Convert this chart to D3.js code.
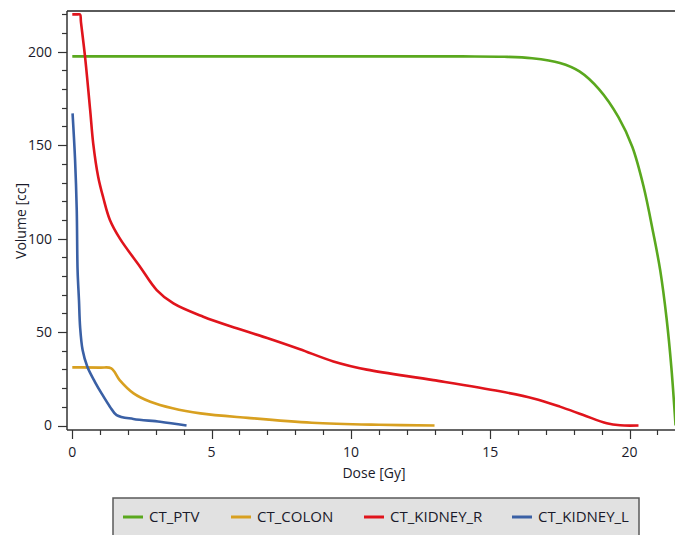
<!DOCTYPE html>
<html>
<head>
<meta charset="utf-8">
<script src="https://cdn.jsdelivr.net/npm/d3@7"></script>
<style>
  body { margin: 0; background: #fff; }
  svg { display: block; font-family: "Open Sans", sans-serif; }
</style>
</head>
<body>
<div id="chart"></div>
<script>
// DVH curves, dose in Gy / volume in cc
var seriesNames = ["CT_PTV", "CT_COLON", "CT_KIDNEY_R", "CT_KIDNEY_L"];
var seriesColors = ["#5aa81e", "#d8a020", "#e0141c", "#3a60a5"];

var ptvDose = [0, 5, 10, 14, 15.5, 16.5, 17.5, 18.2, 18.9, 19.6, 20.1, 20.5, 20.85, 21.1, 21.33, 21.5, 21.65];
var ptvVol  = [197.5, 197.5, 197.5, 197.5, 197.3, 196.5, 194, 189.5, 180, 165, 149, 128, 103, 83, 57, 31, 0];

var colonDose = [0, 1.0, 1.4, 1.7, 2.2, 2.8, 3.6, 4.6, 6.3, 8.6, 11, 13];
var colonVol  = [31.1, 31.0, 30.6, 24.3, 17.2, 12.7, 9.2, 6.5, 4.1, 1.5, 0.4, 0];

var kidRDose = [0, 0.2, 0.28, 0.31, 0.46, 0.64, 0.75, 0.93, 1.11, 1.35, 1.71, 2.43, 3.03, 3.63, 4.7, 5.9, 7.1, 8.17, 9.37, 10.57, 12.96, 15.35, 16.55, 17.5, 18.34, 19.18, 19.66, 20.32];
var kidRVol  = [220, 220, 220, 216, 197, 169, 151, 133, 122, 110, 100, 85, 72.5, 65.3, 58.2, 52, 46.3, 40.8, 34.3, 29.9, 24.3, 18.3, 14.5, 10.1, 5.6, 1.2, 0.1, 0];

var kidLDose = [0.01, 0.1, 0.16, 0.19, 0.24, 0.28, 0.37, 0.54, 0.81, 1.05, 1.35, 1.59, 2.19, 3.15, 4.1];
var kidLVol  = [167, 142, 115, 83, 67, 52.8, 40.4, 31.4, 23.4, 17.2, 10.1, 5.6, 3.5, 2.0, 0];

var xMajor = [0, 5, 10, 15, 20];
var yMajor = [0, 50, 100, 150, 200];

var W = 675, H = 535;
var plotL = 67, plotR = 675, plotT = 11, plotB = 430;

var svg = d3.select("#chart").append("svg").attr("width", W).attr("height", H);

var x = d3.scaleLinear().domain([-0.19, 21.63]).range([plotL, plotR]);
var y = d3.scaleLinear().domain([-2.4, 221.8]).range([plotB, plotT]);

svg.append("defs").append("clipPath").attr("id", "plotClip")
  .append("rect").attr("x", plotL).attr("y", plotT).attr("width", plotR - plotL).attr("height", plotB - plotT);

// curves
var allSeries = [
  ptvDose.map(function(d, i) { return [d, ptvVol[i]]; }),
  colonDose.map(function(d, i) { return [d, colonVol[i]]; }),
  kidRDose.map(function(d, i) { return [d, kidRVol[i]]; }),
  kidLDose.map(function(d, i) { return [d, kidLVol[i]]; })
];

var line = d3.line().x(function(d) { return x(d[0]); }).y(function(d) { return y(d[1]); })
  .curve(d3.curveCatmullRom.alpha(0.5));

var g = svg.append("g").attr("clip-path", "url(#plotClip)");
// draw order: ptv behind, then colon, kidney_r, kidney_l
g.selectAll("path.curve").data(allSeries).enter().append("path")
  .attr("class", "curve")
  .attr("d", line)
  .attr("fill", "none")
  .attr("stroke", function(d, i) { return seriesColors[i]; })
  .attr("stroke-width", 2.6)
  .attr("stroke-linejoin", "round");

// top border
svg.append("line").attr("x1", plotL).attr("x2", plotR).attr("y1", plotT).attr("y2", plotT)
  .attr("stroke", "#5a5a5a").attr("stroke-width", 2);

// y axis
var yAx = svg.append("g").attr("transform", "translate(" + plotL + ",0)");
yAx.append("line").attr("y1", plotT).attr("y2", plotB).attr("stroke", "#333").attr("stroke-width", 1.5);
yAx.selectAll("line.minor").data(d3.range(0, 221, 10)).enter().append("line")
  .attr("class", "minor")
  .attr("x1", function(d) { return d % 50 === 0 ? -9 : -5; }).attr("x2", 0)
  .attr("y1", function(d) { return Math.round(y(d)) + 0.5; }).attr("y2", function(d) { return Math.round(y(d)) + 0.5; })
  .attr("stroke", "#333").attr("stroke-width", 1.2);
yAx.selectAll("text").data(yMajor).enter().append("text")
  .attr("x", -15).attr("y", function(d) { return y(d); }).attr("dy", "0.35em")
  .attr("text-anchor", "end").attr("font-size", 14).attr("fill", "#1a1a2a")
  .text(function(d) { return d; });

// x axis
var xAx = svg.append("g").attr("transform", "translate(0," + plotB + ")");
xAx.append("line").attr("x1", plotL).attr("x2", plotR).attr("stroke", "#333").attr("stroke-width", 1.5);
xAx.selectAll("line.minor").data(d3.range(0, 22, 1)).enter().append("line")
  .attr("class", "minor")
  .attr("y1", 0).attr("y2", function(d) { return d % 5 === 0 ? 9 : 5; })
  .attr("x1", function(d) { return Math.round(x(d)) + 0.5; }).attr("x2", function(d) { return Math.round(x(d)) + 0.5; })
  .attr("stroke", "#333").attr("stroke-width", 1.2);
xAx.selectAll("text").data(xMajor).enter().append("text")
  .attr("x", function(d) { return x(d); }).attr("y", 22).attr("dy", "0.35em")
  .attr("text-anchor", "middle").attr("font-size", 14).attr("fill", "#1a1a2a")
  .text(function(d) { return d; });

// axis titles
svg.append("text").attr("x", 374).attr("y", 473).attr("dy", "0.35em")
  .attr("text-anchor", "middle").attr("font-size", 14).attr("fill", "#1a1a2a").text("Dose [Gy]");
svg.append("text").attr("transform", "translate(21,221) rotate(-90)").attr("dy", "0.35em")
  .attr("text-anchor", "middle").attr("font-size", 14).attr("fill", "#1a1a2a").text("Volume [cc]");

// legend
svg.append("rect").attr("x", 113).attr("y", 498).attr("width", 526).attr("height", 50)
  .attr("fill", "#e1e1e1").attr("stroke", "#5a5a5a").attr("stroke-width", 1.5);
var legX = [123, 231, 364, 512];
var leg = svg.selectAll("g.leg").data(seriesNames).enter().append("g")
  .attr("class", "leg")
  .attr("transform", function(d, i) { return "translate(" + legX[i] + ",517)"; });
leg.append("line").attr("x1", 0).attr("x2", 20)
  .attr("stroke", function(d, i) { return seriesColors[i]; }).attr("stroke-width", 3);
leg.append("text").attr("x", 26).attr("dy", "0.35em").attr("font-size", 15).attr("fill", "#1a1a2a")
  .text(function(d) { return d; });
</script>
</body>
</html>
